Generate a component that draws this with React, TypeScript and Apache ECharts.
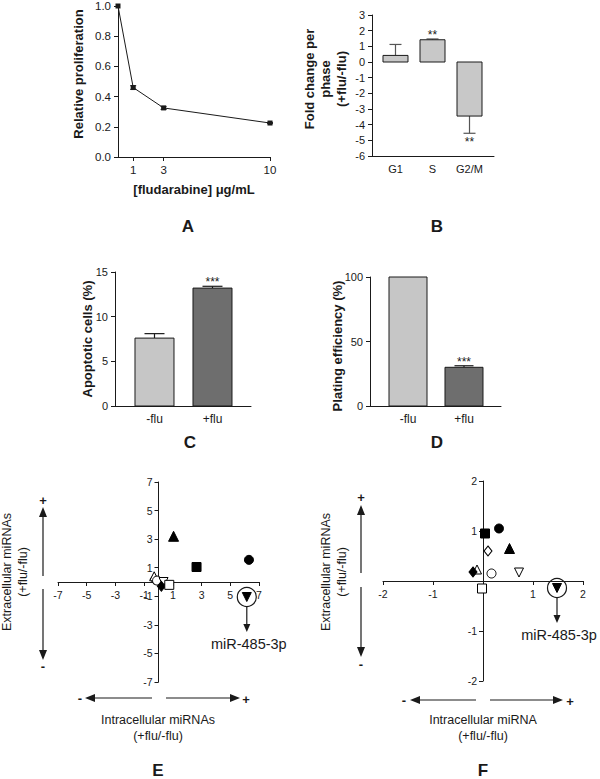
import React, { useEffect, useRef } from "react";
import * as echarts from "echarts";

const FONT = '"Liberation Sans", Arial, Helvetica, sans-serif';
const INK = "#1a1a1a";

// ---- Panel A: relative proliferation vs fludarabine dose ----
const aDose = [0, 1, 3, 10];
const aProlif = [1.0, 0.46, 0.325, 0.225];
const aErr = [0.0, 0.012, 0.01, 0.004];
const aDoseTicks = [1, 3, 10];

// ---- Panel B: fold change per phase ----
const bPhases = ["G1", "S", "G2/M"];
const bFold = [0.42, 1.42, -3.45];
const bErr = [0.7, 0.05, 1.1];
const bStars = ["", "**", "**"];

// ---- Panels C, D ----
const cdGroups = ["-flu", "+flu"];
const cApoptotic = [7.6, 13.2];
const cErr = [0.5, 0.2];
const cStars = ["", "***"];
const dPlating = [100, 30];
const dErr = [0, 1.2];
const dStars = ["", "***"];

// ---- Panels E, F: miRNA fold changes (intracellular vs extracellular) ----
const eIntra = [1.05, 2.65, 6.3, -0.3, -0.3, -0.1, 0.35, 0.2, 0.75, 6.15];
const eExtra = [3.2, 1.05, 1.55, 0.2, 0.4, 0.1, 0.0, -0.3, -0.2, -1.05];
const fIntra = [0.53, 0.04, 0.32, 0.1, -0.12, 0.17, 0.72, -0.2, -0.02, 1.48];
const fExtra = [0.65, 0.95, 1.05, 0.6, 0.23, 0.15, 0.17, 0.18, -0.15, -0.14];
const highlightIndex = 9;
const highlightLabel = "miR-485-3p";

// marker look for each miRNA (same order in E and F)
const markerStyles: any[] = [
  { symbol: "triangle", filled: true, rotate: 0, size: 10 },
  { symbol: "rect", filled: true, rotate: 0, size: 9 },
  { symbol: "circle", filled: true, rotate: 0, size: 9 },
  { symbol: "diamond", filled: false, rotate: 0, size: [8, 10] },
  { symbol: "triangle", filled: false, rotate: 0, size: 9 },
  { symbol: "circle", filled: false, rotate: 0, size: 9 },
  { symbol: "triangle", filled: false, rotate: 180, size: 9 },
  { symbol: "diamond", filled: true, rotate: 0, size: [8, 10] },
  { symbol: "rect", filled: false, rotate: 0, size: 9 },
  { symbol: "triangle", filled: true, rotate: 180, size: 9 },
];

function vAxis(gridIndex: number, o: any) {
  const tick: any = { show: o.ticks !== false, length: 4, lineStyle: { color: INK, width: 1 } };
  if (o.tickValues) tick.customValues = o.tickValues;
  const label: any = { color: INK, fontFamily: FONT, fontSize: o.fontSize || 11, margin: o.margin ?? 7 };
  if (o.formatter) label.formatter = o.formatter;
  if (o.labelValues) label.customValues = o.labelValues;
  const ax: any = {
    gridIndex,
    type: "value",
    min: o.min,
    max: o.max,
    offset: o.offset || 0,
    splitLine: { show: false },
    axisLine: { show: true, onZero: false, lineStyle: { color: INK, width: 1 } },
    axisTick: tick,
    axisLabel: label,
  };
  if (o.interval != null) ax.interval = o.interval;
  return ax;
}

function txtStyle(text: string, font: string, extra: any = {}) {
  return {
    text,
    font,
    fill: INK,
    align: "center",
    verticalAlign: "middle",
    textAlign: "center",
    textVerticalAlign: "middle",
    ...extra,
  };
}

function barSeries(idx: number, values: number[], errs: number[], stars: string[], colors: string[], barW: number, capW: number, errColor: string) {
  return {
    type: "custom",
    xAxisIndex: idx,
    yAxisIndex: idx,
    clip: false,
    silent: true,
    data: values.map((v, i) => [i, v, errs[i]]),
    renderItem: (_p: any, api: any) => {
      const i = api.value(0);
      const v = api.value(1);
      const e = api.value(2);
      const dir = v >= 0 ? 1 : -1;
      const b = api.coord([i, 0]);
      const t = api.coord([i, v]);
      const end = api.coord([i, v + dir * e]);
      const children: any[] = [];
      if (e > 0) {
        children.push({ type: "line", shape: { x1: t[0], y1: t[1], x2: end[0], y2: end[1] }, style: { stroke: errColor, lineWidth: 1.2 } });
        children.push({ type: "line", shape: { x1: end[0] - capW / 2, y1: end[1], x2: end[0] + capW / 2, y2: end[1] }, style: { stroke: errColor, lineWidth: 1.2 } });
      }
      children.push({
        type: "rect",
        shape: { x: b[0] - barW / 2, y: Math.min(b[1], t[1]), width: barW, height: Math.abs(t[1] - b[1]) },
        style: { fill: colors[i], stroke: INK, lineWidth: 1 },
      });
      const s = stars[i];
      if (s) {
        children.push({
          type: "text",
          x: end[0],
          y: dir > 0 ? end[1] - 4 : end[1] + 9,
          style: txtStyle(s, `12px ${FONT}`),
        });
      }
      return { type: "group", children };
    },
  };
}

function scatterSeries(idx: number, xs: number[], ys: number[]) {
  return {
    type: "scatter",
    xAxisIndex: idx,
    yAxisIndex: idx,
    silent: true,
    z: 4,
    data: xs.map((x, i) => {
      const m = markerStyles[i];
      return {
        value: [x, ys[i]],
        symbol: m.symbol,
        symbolRotate: m.rotate,
        symbolSize: m.size,
        itemStyle: { color: m.filled ? "#000000" : "#ffffff", borderColor: "#000000", borderWidth: 1, opacity: 1 },
      };
    }),
  };
}

function highlightSeries(idx: number, x: number, y: number) {
  return {
    type: "custom",
    xAxisIndex: idx,
    yAxisIndex: idx,
    clip: false,
    silent: true,
    z: 5,
    data: [[x, y]],
    renderItem: (_p: any, api: any) => {
      const p = api.coord([api.value(0), api.value(1)]);
      const cx = p[0];
      const cy = p[1];
      return {
        type: "group",
        children: [
          { type: "circle", shape: { cx, cy, r: 9.5 }, style: { fill: "none", stroke: INK, lineWidth: 1.2 } },
          { type: "line", shape: { x1: cx, y1: cy + 10, x2: cx, y2: cy + 28 }, style: { stroke: INK, lineWidth: 1.2 } },
          { type: "polygon", shape: { points: [[cx - 3.5, cy + 27], [cx + 3.5, cy + 27], [cx, cy + 35]] }, style: { fill: INK } },
          { type: "text", x: cx + 2, y: cy + 47, style: txtStyle(highlightLabel, `14.5px ${FONT}`) },
        ],
      };
    },
  };
}

function txt(text: string, x: number, y: number, size: number, bold: boolean, rot = 0, lineHeight?: number) {
  const extra: any = {};
  if (lineHeight) extra.lineHeight = lineHeight;
  return {
    type: "text",
    x,
    y,
    rotation: rot,
    silent: true,
    style: txtStyle(text, `${bold ? "bold " : ""}${size}px ${FONT}`, extra),
  };
}

function vArrow(x: number, top: number, bottom: number, g1: number, g2: number) {
  const h = 10, w = 4;
  const ls = { stroke: INK, lineWidth: 1.2 };
  return [
    { type: "polygon", silent: true, shape: { points: [[x, top], [x - w, top + h], [x + w, top + h]] }, style: { fill: INK } },
    { type: "line", silent: true, shape: { x1: x, y1: top + h, x2: x, y2: g1 }, style: ls },
    { type: "line", silent: true, shape: { x1: x, y1: g2, x2: x, y2: bottom - h }, style: ls },
    { type: "polygon", silent: true, shape: { points: [[x, bottom], [x - w, bottom - h], [x + w, bottom - h]] }, style: { fill: INK } },
  ];
}

function hArrow(y: number, left: number, right: number, g1: number, g2: number) {
  const h = 10, w = 4;
  const ls = { stroke: INK, lineWidth: 1.2 };
  return [
    { type: "polygon", silent: true, shape: { points: [[left, y], [left + h, y - w], [left + h, y + w]] }, style: { fill: INK } },
    { type: "line", silent: true, shape: { x1: left + h, y1: y, x2: g1, y2: y }, style: ls },
    { type: "line", silent: true, shape: { x1: g2, y1: y, x2: right - h, y2: y }, style: ls },
    { type: "polygon", silent: true, shape: { points: [[right, y], [right - h, y - w], [right - h, y + w]] }, style: { fill: INK } },
  ];
}

function buildOption(): any {
  const PI2 = Math.PI / 2;
  const LIGHT = "#c6c6c6";
  const DARK = "#6e6e6e";
  const hideZero = (v: number) => (Math.abs(v) < 1e-9 ? "" : String(v));
  const gE = { left: 58, top: 482, width: 201, height: 200 };
  const gF = { left: 383, top: 481, width: 200, height: 200 };

  return {
    animation: false,
    backgroundColor: "#ffffff",
    grid: [
      { left: 118, top: 5, width: 152, height: 152 },
      { left: 372, top: 15, width: 122, height: 141 },
      { left: 115, top: 272, width: 136, height: 134 },
      { left: 370, top: 277, width: 131, height: 129 },
      gE,
      gF,
    ],
    xAxis: [
      vAxis(0, { min: 0, max: 10, tickValues: aDoseTicks, labelValues: aDoseTicks, fontSize: 11.5 }),
      vAxis(1, { min: -0.635, max: 2.662, ticks: false, labelValues: [0, 1, 2], formatter: (v: number) => bPhases[Math.round(v)], fontSize: 11 }),
      vAxis(2, { min: -0.681, max: 1.664, ticks: false, labelValues: [0, 1], formatter: (v: number) => cdGroups[Math.round(v)], fontSize: 12 }),
      vAxis(3, { min: -0.679, max: 1.661, ticks: false, labelValues: [0, 1], formatter: (v: number) => cdGroups[Math.round(v)], fontSize: 12 }),
      // symmetric ranges: axes cross at the centre of the grid
      vAxis(4, { min: -7, max: 7, interval: 2, offset: -gE.height / 2, fontSize: 10.5, margin: 7 }),
      vAxis(5, { min: -2, max: 2, interval: 1, offset: -gF.height / 2, fontSize: 10.5, margin: 7, formatter: hideZero }),
    ],
    yAxis: [
      vAxis(0, { min: 0, max: 1, interval: 0.2, formatter: (v: number) => v.toFixed(1), fontSize: 11.5 }),
      vAxis(1, { min: -6, max: 3, interval: 1, fontSize: 11 }),
      vAxis(2, { min: 0, max: 15, interval: 5, fontSize: 11 }),
      vAxis(3, { min: 0, max: 100, interval: 50, fontSize: 11 }),
      vAxis(4, { min: -7, max: 7, interval: 2, offset: -gE.width / 2, fontSize: 10.5, margin: 6 }),
      vAxis(5, { min: -2, max: 2, interval: 1, offset: -gF.width / 2, fontSize: 10.5, margin: 6, formatter: hideZero }),
    ],
    series: [
      {
        type: "line",
        xAxisIndex: 0,
        yAxisIndex: 0,
        silent: true,
        data: aDose.map((d, i) => [d, aProlif[i]]),
        symbol: "rect",
        symbolSize: 5,
        itemStyle: { color: INK },
        lineStyle: { color: INK, width: 1 },
        z: 3,
      },
      {
        type: "custom",
        xAxisIndex: 0,
        yAxisIndex: 0,
        silent: true,
        clip: false,
        data: aDose.map((d, i) => [d, aProlif[i], aErr[i]]),
        renderItem: (_p: any, api: any) => {
          const x = api.value(0), v = api.value(1), e = api.value(2);
          if (!(e > 0)) return { type: "group", children: [] };
          const hi = api.coord([x, v + e]);
          const lo = api.coord([x, v - e]);
          const st = { stroke: INK, lineWidth: 1 };
          return {
            type: "group",
            children: [
              { type: "line", shape: { x1: hi[0], y1: hi[1], x2: lo[0], y2: lo[1] }, style: st },
              { type: "line", shape: { x1: hi[0] - 3, y1: hi[1], x2: hi[0] + 3, y2: hi[1] }, style: st },
              { type: "line", shape: { x1: lo[0] - 3, y1: lo[1], x2: lo[0] + 3, y2: lo[1] }, style: st },
            ],
          };
        },
      },
      barSeries(1, bFold, bErr, bStars, ["#c8c8c8", "#c8c8c8", "#c8c8c8"], 25, 12, "#555555"),
      barSeries(2, cApoptotic, cErr, cStars, [LIGHT, DARK], 39, 20, INK),
      barSeries(3, dPlating, dErr, dStars, [LIGHT, DARK], 38, 19, INK),
      scatterSeries(4, eIntra, eExtra),
      highlightSeries(4, eIntra[highlightIndex], eExtra[highlightIndex]),
      scatterSeries(5, fIntra, fExtra),
      highlightSeries(5, fIntra[highlightIndex], fExtra[highlightIndex]),
    ],
    graphic: {
      elements: [
        txt("Relative proliferation", 78, 74, 13, true, PI2),
        txt("[fludarabine] \u03bcg/mL", 194, 189, 13, true),
        txt("A", 188, 226, 17, true),
        txt("Fold change per\nphase\n(+flu/-flu)", 325, 79, 13, true, PI2, 16),
        txt("B", 437, 226, 17, true),
        txt("Apoptotic cells (%)", 87, 339, 13, true, PI2),
        txt("C", 190, 442, 17, true),
        txt("Plating efficiency (%)", 337, 346, 13, true, PI2),
        txt("D", 437, 442, 17, true),
        txt("Extracellular miRNAs\n(+flu/-flu)", 15, 572, 12.5, false, PI2, 16),
        txt("Intracellular miRNAs\n(+flu/-flu)", 158, 728, 12.5, false, 0, 16),
        txt("E", 158, 770, 17, true),
        txt("Extracellular miRNAs\n(+flu/-flu)", 334, 572, 12.5, false, PI2, 16),
        txt("Intracellular miRNA\n(+flu/-flu)", 483, 728, 12.5, false, 0, 16),
        txt("F", 483, 770, 17, true),
        txt("+", 43, 500, 13, true),
        txt("-", 43, 666, 13, true),
        txt("-", 80, 698, 13, true),
        txt("+", 246, 699, 13, true),
        txt("+", 361, 497, 13, true),
        txt("-", 361, 664, 13, true),
        txt("-", 404, 700, 13, true),
        txt("+", 570, 701, 13, true),
        ...vArrow(43, 507, 660, 576, 589),
        ...hArrow(698, 85, 240, 152, 166),
        ...vArrow(361, 505, 657, 573, 587),
        ...hArrow(700, 410, 563, 476, 490),
      ],
    },
  };
}

export default function App() {
  const ref = useRef<HTMLDivElement>(null);
  useEffect(() => {
    if (!ref.current) return;
    const chart = echarts.init(ref.current, undefined, { renderer: "svg" });
    chart.setOption(buildOption());
    return () => chart.dispose();
  }, []);
  return (
    <div
      ref={ref}
      style={{ position: "absolute", left: 0, top: 0, width: 600, height: 779, background: "#fff" }}
    />
  );
}
